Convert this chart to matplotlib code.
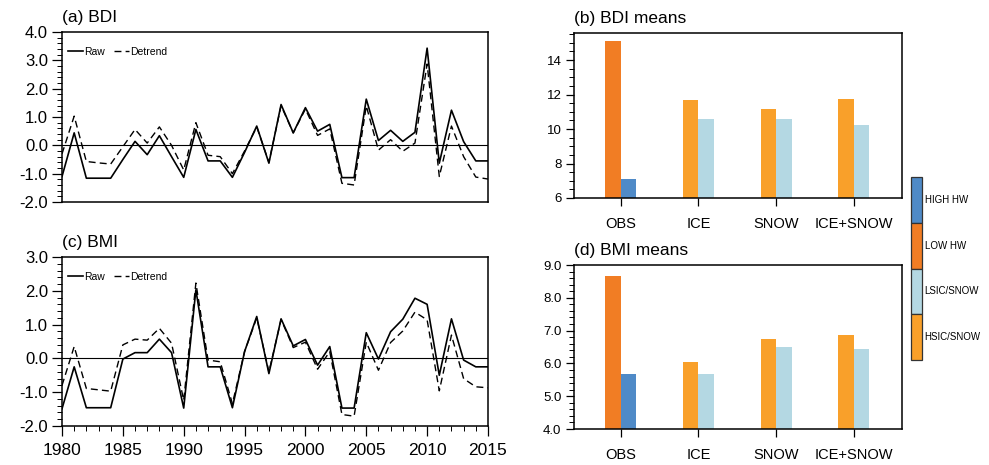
import matplotlib

matplotlib.use("Agg")
import matplotlib.pyplot as plt
import numpy as np
from matplotlib.ticker import MultipleLocator, FormatStrFormatter

plt.rcParams["font.family"] = ["Liberation Sans", "DejaVu Sans"]

YEARS = list(range(1980, 2016))

BDI_RAW = [-1.10, 0.44, -1.16, -1.16, -1.16, -0.50, 0.14, -0.33, 0.34, -0.40,
           -1.13, 0.56, -0.55, -0.55, -1.13, -0.25, 0.68, -0.63, 1.44, 0.44,
           1.33, 0.50, 0.74, -1.14, -1.14, 1.63, 0.17, 0.53, 0.14, 0.46,
           3.43, -0.63, 1.24, 0.13, -0.55, -0.55]
BDI_DETREND = [-0.30, 1.03, -0.57, -0.62, -0.66, -0.05, 0.56, 0.08, 0.65, 0.00,
               -0.87, 0.80, -0.35, -0.40, -1.00, -0.20, 0.65, -0.60, 1.40, 0.44,
               1.28, 0.35, 0.58, -1.34, -1.40, 1.39, -0.17, 0.20, -0.21, 0.08,
               2.87, -1.10, 0.68, -0.40, -1.12, -1.19]

BMI_RAW = [-1.49, -0.25, -1.46, -1.46, -1.46, -0.02, 0.17, 0.17, 0.57, 0.17,
           -1.47, 2.03, -0.25, -0.25, -1.46, 0.20, 1.24, -0.45, 1.17, 0.37,
           0.56, -0.20, 0.35, -1.47, -1.47, 0.76, -0.02, 0.79, 1.16, 1.78,
           1.60, -0.50, 1.17, -0.05, -0.25, -0.25]
BMI_DETREND = [-0.80, 0.35, -0.89, -0.93, -0.97, 0.40, 0.57, 0.54, 0.89, 0.45,
               -1.24, 2.23, -0.05, -0.10, -1.34, 0.20, 1.20, -0.40, 1.15, 0.32,
               0.48, -0.32, 0.20, -1.66, -1.71, 0.48, -0.35, 0.47, 0.81, 1.37,
               1.14, -0.96, 0.69, -0.60, -0.84, -0.87]

GROUPS = ["OBS", "ICE", "SNOW", "ICE+SNOW"]
# first bar of each group (orange tones), second bar (blue tones)
BDI_MEANS_A = [15.10, 11.67, 11.15, 11.73]
BDI_MEANS_B = [7.09, 10.57, 10.57, 10.22]
BMI_MEANS_A = [8.67, 6.04, 6.74, 6.87]
BMI_MEANS_B = [5.68, 5.68, 6.50, 6.44]

LEGEND_LABELS = ["HIGH HW", "LOW HW", "LSIC/SNOW", "HSIC/SNOW"]
LEGEND_COLORS = ["#4F8AC7", "#F17D24", "#B4D8E3", "#F9A02A"]

# OBS uses LOW HW / HIGH HW, the experiments use HSIC / LSIC
COLORS_A = [LEGEND_COLORS[1]] + [LEGEND_COLORS[3]] * 3
COLORS_B = [LEGEND_COLORS[0]] + [LEGEND_COLORS[2]] * 3


def _style_axes(ax, major_len, minor_len):
    for side in ["left", "right", "top", "bottom"]:
        ax.spines[side].set_linewidth(1.1)
    ax.tick_params(which="both", direction="out", top=False, right=False)
    ax.tick_params(which="major", length=major_len, width=0.9)
    ax.tick_params(which="minor", length=minor_len, width=0.7)


def _line_panel(ax, raw, detrend, ylim, title, show_x):
    ax.plot(YEARS, raw, "-", color="black", lw=1.2, label="Raw")
    ax.plot(YEARS, detrend, "--", color="black", lw=1.0, dashes=(5, 3), label="Detrend")
    ax.axhline(0, color="black", lw=0.8)
    ax.set_xlim(YEARS[0], YEARS[-1])
    ax.set_ylim(*ylim)
    ax.yaxis.set_major_locator(MultipleLocator(1.0))
    ax.yaxis.set_minor_locator(MultipleLocator(0.2))
    ax.yaxis.set_major_formatter(FormatStrFormatter("%.1f"))
    _style_axes(ax, 7, 3.5)
    ax.tick_params(axis="y", labelsize=12, pad=3)
    if show_x:
        ax.xaxis.set_major_locator(MultipleLocator(5))
        ax.xaxis.set_minor_locator(MultipleLocator(1))
        ax.tick_params(axis="x", which="major", labelsize=12.5, pad=5)
    else:
        ax.tick_params(axis="x", which="both", bottom=False, labelbottom=False)
    ax.set_title(title, loc="left", fontsize=12.5, pad=7)
    ax.legend(loc="upper left", frameon=False, ncol=2, fontsize=7.5,
              handlelength=1.4, handletextpad=0.1, columnspacing=0.9,
              borderaxespad=0.2, bbox_to_anchor=(0.0, 0.95))


def _bar_panel(ax, vals_a, vals_b, ylim, title, major, minor, fmt):
    x = np.arange(1, len(GROUPS) + 1)
    ax.bar(x - 0.1, vals_a, width=0.2, color=COLORS_A)
    ax.bar(x + 0.1, vals_b, width=0.2, color=COLORS_B)
    ax.set_xlim(0.4, 4.62)
    ax.set_ylim(*ylim)
    ax.set_xticks(x)
    ax.set_xticklabels(GROUPS)
    ax.yaxis.set_major_locator(MultipleLocator(major))
    ax.yaxis.set_minor_locator(MultipleLocator(minor))
    ax.yaxis.set_major_formatter(FormatStrFormatter(fmt))
    _style_axes(ax, 6, 3.5)
    ax.tick_params(axis="x", which="major", length=6, labelsize=10.5, pad=8)
    ax.tick_params(axis="y", labelsize=9.5, pad=3)
    ax.set_title(title, loc="left", fontsize=12.5, pad=7)


def main():
    fig = plt.figure(figsize=(9.89, 4.65), dpi=100)

    ax_a = fig.add_axes([0.0627, 0.5656, 0.4307, 0.3656])
    ax_c = fig.add_axes([0.0627, 0.0839, 0.4307, 0.3634])
    ax_b = fig.add_axes([0.5804, 0.5742, 0.3316, 0.3548])
    ax_d = fig.add_axes([0.5804, 0.0774, 0.3316, 0.3527])

    _line_panel(ax_a, BDI_RAW, BDI_DETREND, (-2.0, 4.0), "(a) BDI", False)
    _line_panel(ax_c, BMI_RAW, BMI_DETREND, (-2.0, 3.0), "(c) BMI", True)
    _bar_panel(ax_b, BDI_MEANS_A, BDI_MEANS_B, (6, 15.57), "(b) BDI means", 2, 0.5, "%d")
    _bar_panel(ax_d, BMI_MEANS_A, BMI_MEANS_B, (4.0, 9.0), "(d) BMI means", 1.0, 0.2, "%.1f")

    # label bar on the right, drawn as stacked boxes
    ax_l = fig.add_axes([0.921, 0.2258, 0.0111, 0.3935])
    n = len(LEGEND_LABELS)
    ax_l.bar([0] * n, [1] * n, bottom=list(range(n))[::-1], width=1.0,
             color=LEGEND_COLORS, edgecolor="#333333", linewidth=0.9, clip_on=False)
    ax_l.set_xlim(-0.5, 0.5)
    ax_l.set_ylim(0, n)
    ax_l.axis("off")
    for i, label in enumerate(LEGEND_LABELS):
        ax_l.text(0.75, n - i - 0.5, label, fontsize=7, va="center", ha="left")

    fig.savefig("out.png", dpi=100)
    plt.close(fig)


if __name__ == "__main__":
    main()
